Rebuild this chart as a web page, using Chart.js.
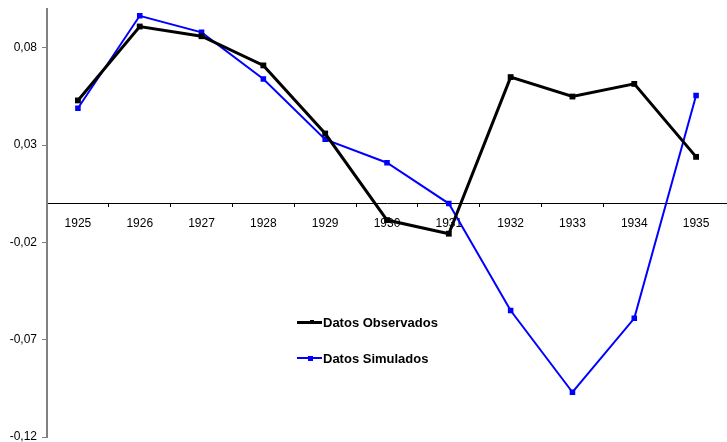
<!DOCTYPE html>
<html>
<head>
<meta charset="utf-8">
<script src="https://cdn.jsdelivr.net/npm/chart.js@4"></script>
<style>
  body { margin: 0; background: #fff; }
  #wrap { position: relative; width: 727px; height: 442px; overflow: hidden; }
  .leg { position: absolute; left: 297px; font: bold 13px "Liberation Sans", Arial, sans-serif; color: #000; display: flex; align-items: center; height: 16px; }
  .leg span.ln { display: inline-block; width: 25px; height: 3px; margin-right: 1px; position: relative; }
  .leg span.mk { position: absolute; left: 13px; top: -1px; width: 5px; height: 5px; }
</style>
</head>
<body>
<div id="wrap">
  <canvas id="chart" width="727" height="442"></canvas>
  <div class="leg" style="top:314px"><span class="ln" style="background:#000"><span class="mk" style="background:#000;width:4px;height:4px;top:-0.5px"></span></span>Datos Observados</div>
  <div class="leg" style="top:350px"><span class="ln" style="background:#0000ff;height:2px"><span class="mk" style="background:#0000ff;left:11px;top:-1.5px"></span></span>Datos Simulados</div>
</div>
<script>
'use strict'

// Data
const years = ['1925', '1926', '1927', '1928', '1929', '1930', '1931', '1932', '1933', '1934', '1935'];
const observados = [0.053, 0.091, 0.086, 0.071, 0.036, -0.0085, -0.0155, 0.065, 0.055, 0.0615, 0.024];
const simulados = [0.049, 0.0965, 0.088, 0.064, 0.033, 0.021, 0.0, -0.055, -0.097, -0.059, 0.0555];
const yTicks = [-0.12, -0.07, -0.02, 0.03, 0.08];

function fmt(v) {
    return v.toFixed(2).replace('.', ',');
}

const ctx = document.getElementById('chart').getContext('2d');
new Chart(ctx, {
    type: 'line',
    data: {
        labels: years,
        datasets: [
            {
                label: 'Datos Observados',
                data: observados,
                borderColor: '#000000',
                backgroundColor: '#000000',
                borderWidth: 3,
                pointStyle: 'rect',
                pointRadius: 2,
                tension: 0
            },
            {
                label: 'Datos Simulados',
                data: simulados,
                borderColor: '#0000ff',
                backgroundColor: '#0000ff',
                borderWidth: 2,
                pointStyle: 'rect',
                pointRadius: 2.5,
                tension: 0
            }
        ]
    },
    options: {
        responsive: false,
        animation: false,
        layout: { autoPadding: false, padding: { top: 9, right: 0, bottom: 5, left: 0 } },
        plugins: {
            legend: { display: false },
            tooltip: { enabled: false }
        },
        scales: {
            x: {
                position: { y: 0 },
                offset: true,
                afterFit: function (scale) {
                    scale.paddingLeft = 0;
                    scale.paddingRight = 0;
                },
                grid: { offset: true, drawOnChartArea: false, drawTicks: true, tickLength: 3, color: '#000' },
                border: { color: '#000', width: 1 },
                ticks: { color: '#000', font: { family: 'Liberation Sans', size: 12 }, padding: 10, maxRotation: 0, autoSkip: false }
            },
            y: {
                min: -0.12,
                max: 0.1,
                afterBuildTicks: function (scale) {
                    scale.ticks = yTicks.map(v => ({ value: v }));
                },
                afterFit: function (scale) {
                    scale.width = 47;
                    scale.paddingTop = 0;
                    scale.paddingBottom = 0;
                },
                grid: { drawOnChartArea: false, drawTicks: true, tickLength: 5, color: '#808080' },
                border: { color: '#808080', width: 2 },
                ticks: {
                    color: '#000',
                    font: { family: 'Liberation Sans', size: 12 },
                    padding: 5,
                    callback: function (v) { return fmt(v); }
                }
            }
        }
    }
});
</script>
</body>
</html>
